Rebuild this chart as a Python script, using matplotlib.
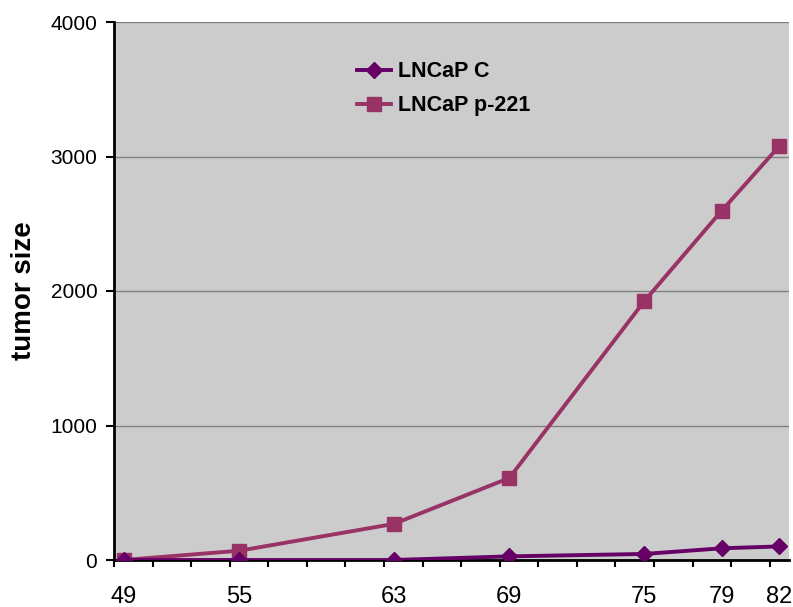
import numpy as np
import matplotlib.pyplot as plt

# Data
days = [49, 55, 63, 69, 76, 80, 83]          # plotted positions (date axis)
day_labels = ["49", "55", "63", "69", "75", "79", "82"]
lncap_c = [0, 0, 0, 27, 45, 87, 101]
lncap_p221 = [0, 69, 268, 610, 1925, 2595, 3078]

plt.rcParams['font.family'] = ['Liberation Sans', 'DejaVu Sans']

fig = plt.figure(figsize=(7.93, 6.07), dpi=100)
ax = fig.add_axes([114 / 793, 1 - 560 / 607, (789 - 114) / 793, (560 - 22) / 607])
ax.set_facecolor('#cccccc')

ax.plot(days, lncap_c, color='#660066', lw=2.8, marker='D', markersize=8,
        label='LNCaP C', zorder=4)
ax.plot(days, lncap_p221, color='#993366', lw=2.8, marker='s', markersize=9.5,
        label='LNCaP p-221', zorder=3)

ax.set_xlim(48.5, 83.5)
ax.set_ylim(0, 4000)

ax.set_yticks([0, 1000, 2000, 3000, 4000])
ax.yaxis.grid(True, color='#808080', lw=1)
ax.set_axisbelow(True)
ax.tick_params(axis='y', labelsize=15, length=6, width=1.5, pad=6)

# tick marks every 2 days, labels at the measurement days
ax.set_xticks(np.arange(48.5, 83.0, 2))
ax.set_xticklabels([])
ax.tick_params(axis='x', which='major', length=5, width=1.5, direction='out')
ax.set_xticks(days, minor=True)
ax.set_xticklabels(day_labels, minor=True)
ax.tick_params(axis='x', which='minor', length=0, labelsize=17, pad=19)

for s in ['top', 'right']:
    ax.spines[s].set_visible(False)
for s in ['left', 'bottom']:
    ax.spines[s].set_linewidth(2)
    ax.spines[s].set_color('black')

ax.set_ylabel('tumor size', fontsize=20, fontweight='bold', labelpad=10)

ax.legend(loc='upper left', bbox_to_anchor=(0.331, 0.963), frameon=False,
          prop={'size': 15.5, 'weight': 'bold'}, handlelength=1.6,
          handletextpad=0.3, labelspacing=0.6)

fig.savefig('out.png', dpi=100)
